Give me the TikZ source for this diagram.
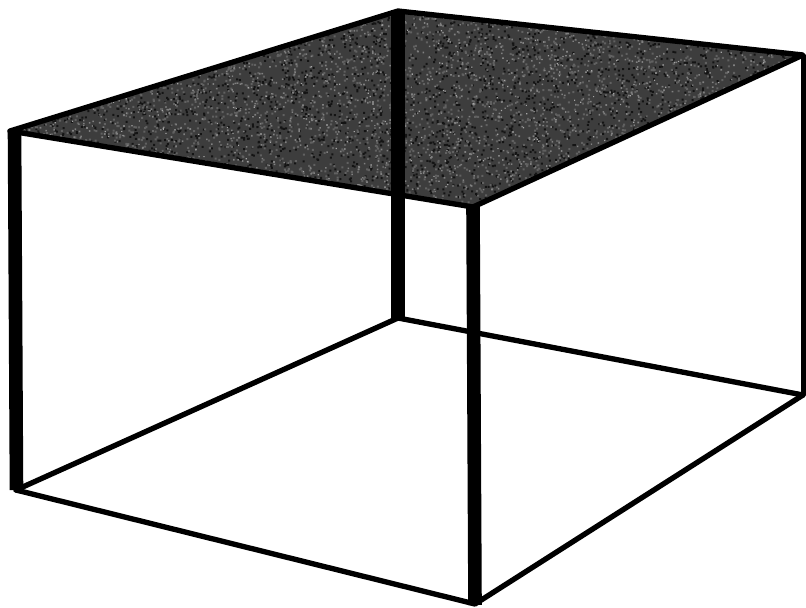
\documentclass[tikz,border=0pt]{standalone}
\usetikzlibrary{calc}
\tikzset{
  thinedge/.style={line width=4pt,line cap=round,line join=round,black},
  postedge/.style={line width=10.2pt,line cap=butt,black},
}
\newcommand{\speckle}[3]{%
  \fill[black!#1!white] \foreach \k in {1,...,#2}{%
    ({10+rnd*796},{10+rnd*197}) rectangle ++(#3,#3)};%
}
\begin{document}
\begin{tikzpicture}[x=0.75pt,y=-0.75pt]
\useasboundingbox (0,0) rectangle (806,607);
\fill[white] (0,0) rectangle (806,607);
\coordinate (A) at (10,131);
\coordinate (B) at (398,11);
\coordinate (C) at (803,55);
\coordinate (D) at (473,207);
\coordinate (E) at (16,490);
\coordinate (F) at (398,318);
\coordinate (G) at (803,395);
\coordinate (H) at (475,604);
\begin{scope}
  \clip (A) -- (B) -- (C) -- (D) -- cycle;
  \fill[black!76!white] (A) -- (B) -- (C) -- (D) -- cycle;
  \pgfmathsetseed{4242}
  \speckle{92}{3500}{2}
  \speckle{62}{3500}{2}
  \speckle{50}{1800}{1.6}
  \speckle{35}{500}{1.2}
\end{scope}
\draw[thinedge] (A) -- (B) -- (C) -- (D) -- cycle;
\draw[thinedge] (E) -- (F) -- (G);
\draw[thinedge] (E) -- (H) -- (G);
\draw[postedge] ($(A)+(4.5,-1)$) -- ($(E)+(0.5,0)$);
\draw[postedge] ($(B)+(0,-1)$) -- ($(F)+(0,1)$);
\draw[postedge] ($(D)+(0,-1)$) -- ($(H)+(0,1)$);
\draw[line width=4.5pt] ($(C)+(1,0)$) -- ($(G)+(1,0)$);
\end{tikzpicture}
\end{document}
